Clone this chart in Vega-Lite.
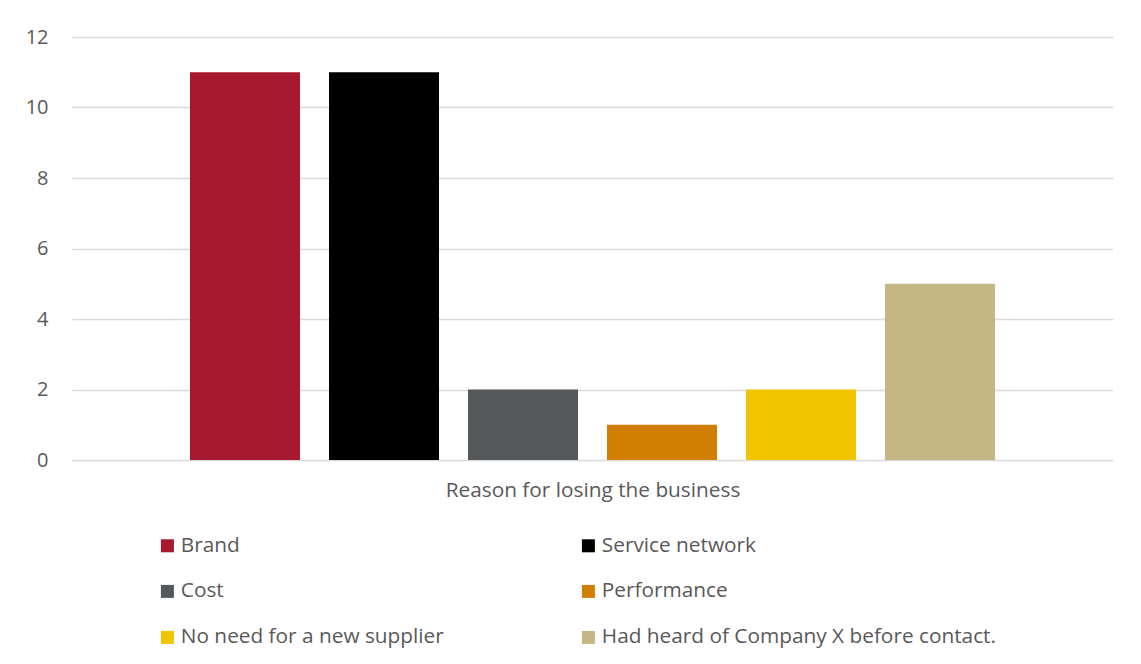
{
  "$schema": "https://vega.github.io/schema/vega-lite/v6.json",
  "width": 1041,
  "height": 423,
  "autosize": {"type": "none"},
  "padding": {"left": 72, "top": 37, "right": 28, "bottom": 204},
  "background": "white",
  "config": {
    "view": {"stroke": null},
    "font": "Open Sans"
  },
  "data": {
    "values": [
      {"reason": "Brand", "count": 11},
      {"reason": "Service network", "count": 11},
      {"reason": "Cost", "count": 2},
      {"reason": "Performance", "count": 1},
      {"reason": "No need for a new supplier", "count": 2},
      {"reason": "Had heard of Company X before contact.", "count": 5}
    ]
  },
  "mark": {"type": "bar"},
  "encoding": {
    "x": {
      "field": "reason",
      "type": "nominal",
      "sort": null,
      "scale": {"paddingInner": 0.2086, "paddingOuter": 0.849},
      "axis": {
        "labels": false,
        "ticks": false,
        "domain": false,
        "title": "Reason for losing the business",
        "titleFont": "Open Sans",
        "titleFontSize": 20.8,
        "titleFontWeight": "normal",
        "titleColor": "#595959",
        "titlePadding": 20
      }
    },
    "y": {
      "field": "count",
      "type": "quantitative",
      "scale": {"domain": [0, 12]},
      "axis": {
        "title": null,
        "values": [0, 2, 4, 6, 8, 10, 12],
        "domain": false,
        "ticks": false,
        "labelFontSize": 20,
        "labelColor": "#595959",
        "labelPadding": 24,
        "gridColor": "#D9D9D9",
        "gridWidth": 1.5
      }
    },
    "color": {
      "field": "reason",
      "type": "nominal",
      "sort": null,
      "scale": {
        "domain": ["Brand", "Cost", "No need for a new supplier", "Service network", "Performance", "Had heard of Company X before contact."],
        "range": ["#A6192E", "#54585A", "#F1C400", "#000000", "#D07F00", "#C5B783"]
      },
      "legend": {
        "title": null,
        "orient": "none",
        "legendX": 85,
        "legendY": 498,
        "columns": 2,
        "columnPadding": 134,
        "rowPadding": 24,
        "padding": 0,
        "symbolType": "square",
        "symbolSize": 169,
        "symbolStrokeWidth": 0,
        "labelOffset": 3,
        "labelFontSize": 20.8,
        "labelColor": "#595959",
        "labelLimit": 500
      }
    }
  }
}
